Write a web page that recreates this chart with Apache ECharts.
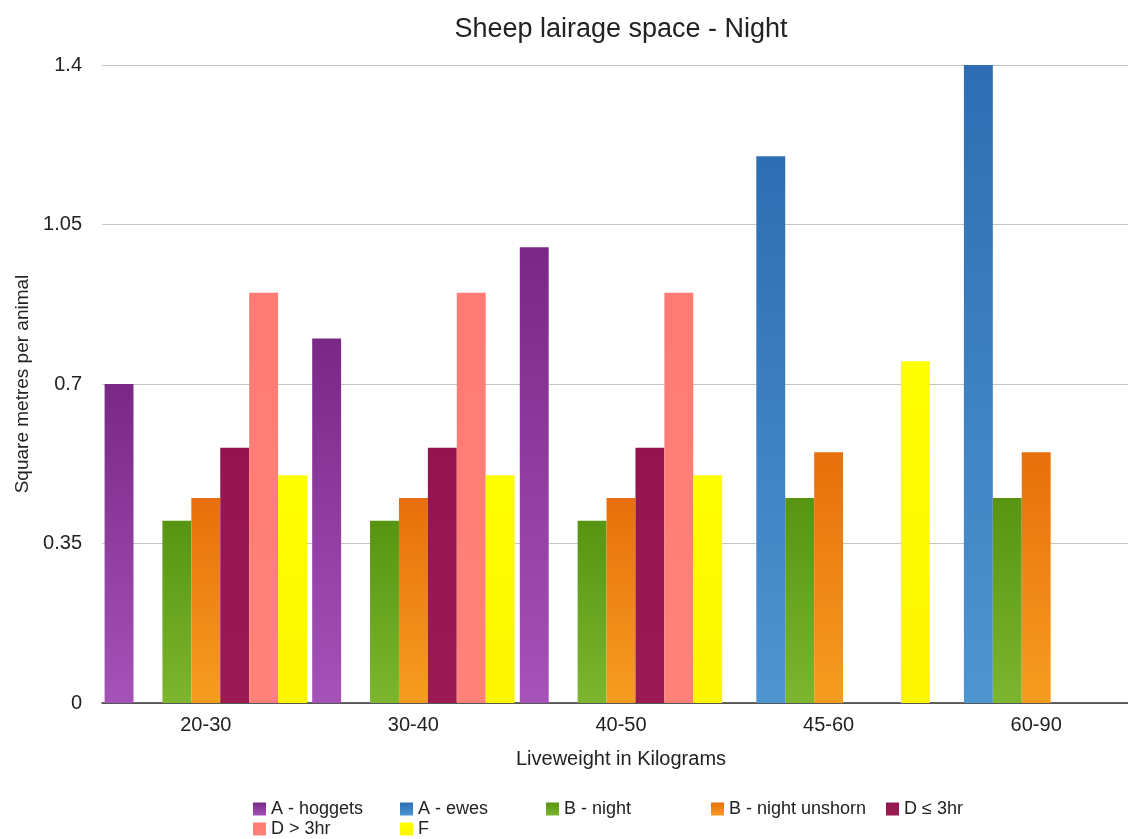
<!DOCTYPE html>
<html>
<head>
<meta charset="utf-8">
<script src="https://cdn.jsdelivr.net/npm/echarts@6/dist/echarts.min.js"></script>
<style>
html,body{margin:0;padding:0;background:#fff;overflow:hidden;width:1128px;height:839px;}
#chart{width:1140px;height:839px;}
</style>
</head>
<body>
<div id="chart"></div>
<script>
const categories = ['20-30', '30-40', '40-50', '45-60', '60-90'];
const seriesNames = ['A - hoggets', 'A - ewes', 'B - night', 'B - night unshorn', 'D \u2264 3hr', 'D > 3hr', 'F'];
const aHoggets = [0.7, 0.8, 1.0, null, null];
const aEwes = [null, null, null, 1.2, 1.4];
const bNight = [0.4, 0.4, 0.4, 0.45, 0.45];
const bNightUnshorn = [0.45, 0.45, 0.45, 0.55, 0.55];
const dUnder3 = [0.56, 0.56, 0.56, null, null];
const dOver3 = [0.9, 0.9, 0.9, null, null];
const fValues = [0.5, 0.5, 0.5, 0.75, null];
const yTicks = [0, 0.35, 0.7, 1.05, 1.4];

const seriesValues = [aHoggets, aEwes, bNight, bNightUnshorn, dUnder3, dOver3, fValues];
const colorStops = [
  ['#792886', '#a552b9'],
  ['#2e6db2', '#4d95d0'],
  ['#589412', '#7cb62e'],
  ['#e86f0b', '#f69d20'],
  ['#93144f', '#9a1b53'],
  ['#ff7b74', '#ff8279'],
  ['#ffff00', '#fcf500']
];
// legend item placement (layout only)
const legendSpots = [
  [248, 795], [395, 795], [541, 795], [706, 795], [881, 795],
  [248, 815], [395, 815]
];
function grad(c) {
  return new echarts.graphic.LinearGradient(0, 0, 0, 1, [
    {offset: 0, color: c[0]}, {offset: 1, color: c[1]}
  ]);
}
const font = '"Liberation Sans", Arial, Helvetica, sans-serif';
const chart = echarts.init(document.getElementById('chart'), null, {renderer: 'canvas'});
const option = {
  animation: false,
  backgroundColor: '#ffffff',
  textStyle: {fontFamily: font},
  title: {
    text: 'Sheep lairage space - Night',
    left: 616, textAlign: 'center', top: 11,
    textStyle: {fontFamily: font, fontSize: 27, fontWeight: 'normal', color: '#222'}
  },
  grid: {left: 102, right: 0, top: 65, bottom: 136, containLabel: false},
  legend: seriesNames.map((n, i) => ({
    data: [n],
    left: legendSpots[i][0], top: legendSpots[i][1],
    itemWidth: 13, itemHeight: 13,
    icon: 'rect',
    textStyle: {fontFamily: font, fontSize: 18, color: '#222'}
  })),
  xAxis: {
    type: 'category',
    data: categories,
    axisTick: {show: false},
    axisLine: {lineStyle: {color: '#333', width: 1.5}},
    axisLabel: {fontFamily: font, fontSize: 20, color: '#222', margin: 12},
    name: 'Liveweight in Kilograms',
    nameLocation: 'middle',
    nameGap: 46,
    nameTextStyle: {fontFamily: font, fontSize: 20, color: '#222'}
  },
  yAxis: {
    type: 'value',
    min: 0, max: 1.4, interval: 0.35,
    axisLine: {show: false},
    axisTick: {show: false},
    splitLine: {lineStyle: {color: '#c4c4c4', width: 1.2}},
    axisLabel: {
      fontFamily: font, fontSize: 20, color: '#222', margin: 20,
      formatter: function (v) {
        const r = Math.round(v * 100) / 100;
        const hit = yTicks.find(t => Math.abs(t - r) < 1e-6);
        return String(hit !== undefined ? hit : r);
      }
    },
    name: 'Square metres per animal',
    nameLocation: 'middle',
    nameGap: 70,
    nameTextStyle: {fontFamily: font, fontSize: 19, color: '#222'}
  },
  series: seriesValues.map((vals, i) => ({
    name: seriesNames[i],
    type: 'bar',
    data: vals,
    barGap: '0%',
    barCategoryGap: '2.5%',
    itemStyle: {color: grad(colorStops[i])}
  }))
};
chart.setOption(option);
</script>
</body>
</html>
